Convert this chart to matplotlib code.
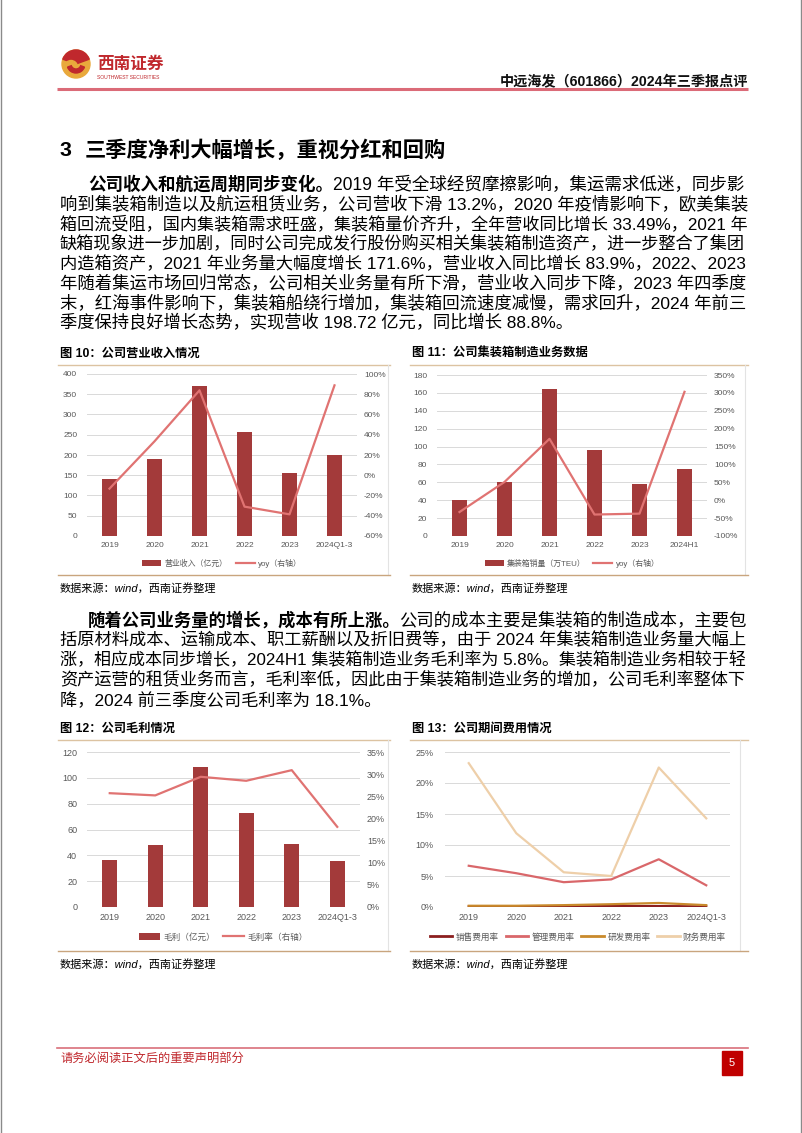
import matplotlib
matplotlib.use('Agg')
import matplotlib.pyplot as plt
from matplotlib.patches import Rectangle, Circle, Wedge, Patch
from matplotlib.lines import Line2D
from matplotlib.ticker import FuncFormatter

plt.rcParams['font.family'] = ['Liberation Sans', 'Noto Sans CJK SC']

# ---------------- data ----------------
cats_a = ['2019', '2020', '2021', '2022', '2023', '2024Q1-3']
cats_b = ['2019', '2020', '2021', '2022', '2023', '2024H1']

revenue = [141, 189, 371, 256, 156, 199]          # 营业收入（亿元）
revenue_yoy = [-13.2, 33.5, 83.9, -31.0, -38.6, 88.8]

box_sales = [40, 60.5, 164, 96, 58.6, 74.5]        # 集装箱销量（万TEU）
box_yoy = [-33, 51, 171.6, -40, -37.5, 303]

gross_profit = [36.3, 47.9, 108.4, 72.6, 48.4, 36.0]   # 毛利（亿元）
gross_margin = [25.7, 25.2, 29.4, 28.5, 30.9, 18.1]    # 毛利率

sell_rate = [0.10, 0.10, 0.10, 0.15, 0.15, 0.10]
admin_rate = [6.65, 5.45, 4.0, 4.45, 7.7, 3.5]
rnd_rate = [0.20, 0.20, 0.30, 0.45, 0.65, 0.30]
fin_rate = [23.2, 11.9, 5.6, 5.0, 22.5, 14.3]

para1 = [
    [("公司收入和航运周期同步变化。", 'bold'), ("2019 年受全球经贸摩擦影响，集运需求低迷，同步影", 'normal')],
    [("响到集装箱制造以及航运租赁业务，公司营收下滑 13.2%，2020 年疫情影响下，欧美集装", 'normal')],
    [("箱回流受阻，国内集装箱需求旺盛，集装箱量价齐升，全年营收同比增长 33.49%，2021 年", 'normal')],
    [("缺箱现象进一步加剧，同时公司完成发行股份购买相关集装箱制造资产，进一步整合了集团", 'normal')],
    [("内造箱资产，2021 年业务量大幅度增长 171.6%，营业收入同比增长 83.9%，2022、2023", 'normal')],
    [("年随着集运市场回归常态，公司相关业务量有所下滑，营业收入同步下降，2023 年四季度", 'normal')],
    [("末，红海事件影响下，集装箱船绕行增加，集装箱回流速度减慢，需求回升，2024 年前三", 'normal')],
    [("季度保持良好增长态势，实现营收 198.72 亿元，同比增长 88.8%。", 'normal')],
]
para2 = [
    [("随着公司业务量的增长，成本有所上涨。", 'bold'), ("公司的成本主要是集装箱的制造成本，主要包", 'normal')],
    [("括原材料成本、运输成本、职工薪酬以及折旧费等，由于 2024 年集装箱制造业务量大幅上", 'normal')],
    [("涨，相应成本同步增长，2024H1 集装箱制造业务毛利率为 5.8%。集装箱制造业务相较于轻", 'normal')],
    [("资产运营的租赁业务而言，毛利率低，因此由于集装箱制造业务的增加，公司毛利率整体下", 'normal')],
    [("降，2024 前三季度公司毛利率为 18.1%。", 'normal')],
]

# ---------------- figure ----------------
W, H = 802, 1133
fig = plt.figure(figsize=(W / 100, H / 100), dpi=100)
bg = fig.add_axes([0, 0, 1, 1])
bg.set_xlim(0, W)
bg.set_ylim(H, 0)
bg.axis('off')
renderer = fig.canvas.get_renderer()

RED = '#C0282D'
BAR = '#A33A3A'
LINE = '#E07372'
GRAY = '#595959'
GRID = '#D9D9D9'
FRAME = '#DCC3A2'


def rect(l, t, r, b):
    return [l / W, 1 - b / H, (r - l) / W, (b - t) / H]


# page side borders
bg.plot([0.5, 0.5], [0, H], color='#8A8A8A', lw=1)
bg.plot([W - 0.8, W - 0.8], [0, H], color='#8A8A8A', lw=1)

# logo
bg.add_patch(Circle((76, 64), 14, color='#E9A93C', zorder=2))
bg.add_patch(Wedge((76, 64), 14, 200, 340, color=RED, zorder=3))
bg.add_patch(Circle((71, 67), 6.5, color='#E9A93C', zorder=4))
bg.add_patch(Wedge((76, 64), 9, 20, 160, width=4, color=RED, zorder=4))
bg.text(97, 64, "西南证券", fontsize=12, fontweight='bold', color=RED, va='center', ha='left')
bg.text(97, 77.5, "SOUTHWEST SECURITIES", fontsize=3.6, color=RED, va='center', ha='left')

# header
bg.text(748, 81, "中远海发（601866）2024年三季报点评", fontsize=10.2, fontweight='bold',
        color='#111111', ha='right', va='center')
bg.plot([57, 748], [89, 89], color='#DB6B78', lw=2.2, solid_capstyle='butt')

# section heading
bg.text(60, 150, "3", fontsize=15.3, fontweight='bold', color='black', va='center', ha='left')
bg.text(85, 150, "三季度净利大幅增长，重视分红和回购", fontsize=15.3, fontweight='bold',
        color='black', va='center', ha='left')


def paragraph(lines, y0, dy, x_left=60, x_right=745, indent=28, base=12.0):
    objs_all, scales = [], []
    for i, parts in enumerate(lines):
        x0 = x_left + (indent if i == 0 else 0)
        y = y0 + i * dy
        objs = [bg.text(x0, y, t, fontsize=base, fontweight=w, color='black',
                        va='center', ha='left') for t, w in parts]
        widths = [o.get_window_extent(renderer).width for o in objs]
        objs_all.append((objs, widths, x0))
        if i < len(lines) - 1:
            scales.append((x_right - x0) / sum(widths))
    mean_s = sum(scales) / len(scales)
    for i, (objs, widths, x0) in enumerate(objs_all):
        s = scales[i] if i < len(scales) else mean_s
        x = x0
        for o, w in zip(objs, widths):
            o.set_fontsize(base * s)
            o.set_x(x)
            x += w * s


paragraph(para1, 185, 19.7)
paragraph(para2, 620, 20.0)


def chart_frame(x0, x1, title, t_y, top, bottom, right):
    bg.text(x0 + 2, t_y, title, fontsize=8.8, fontweight='bold', color='black', va='center', ha='left')
    bg.plot([x0, x1], [top, top], color=FRAME, lw=1.0)
    bg.plot([right, right], [top, bottom], color='#E3E3E3', lw=0.8)
    bg.plot([x0, x1], [bottom, bottom], color='#C9A57E', lw=1.0)
    bg.text(x0 + 2, bottom + 13, "数据来源：wind，西南证券整理", fontsize=8, color='black',
            va='center', ha='left', style='italic')


chart_frame(58, 390, "图 10：公司营业收入情况", 354, 365, 575, 388)
chart_frame(410, 748, "图 11：公司集装箱制造业务数据", 354, 365, 575, 745)
chart_frame(58, 390, "图 12：公司毛利情况", 729, 740, 951, 388)
chart_frame(410, 748, "图 13：公司期间费用情况", 729, 740, 951, 740)

pct = FuncFormatter(lambda v, p: f"{v:.0f}%")


def style_axes(ax, fs=6.0, lpad=7, bpad=4):
    ax.set_facecolor('none')
    for s in ax.spines.values():
        s.set_visible(False)
    ax.tick_params(axis='both', length=0, labelsize=fs, labelcolor=GRAY)
    ax.tick_params(axis='y', pad=lpad)
    ax.tick_params(axis='x', pad=bpad)


def bar_line_chart(pos, cats, bars, line, ylim, ystep, y2lim, y2step, legend_labels, leg_y, fs=6.0):
    ax = fig.add_axes(rect(*pos))
    xs = list(range(len(cats)))
    ax.set_axisbelow(True)
    ax.grid(axis='y', color=GRID, lw=0.7)
    ax.bar(xs, bars, width=0.33, color=BAR, zorder=2)
    ax.set_xlim(-0.5, len(cats) - 0.5)
    ax.set_ylim(*ylim)
    ax.set_yticks(range(ylim[0], ylim[1] + 1, ystep))
    ax.set_xticks(xs)
    ax.set_xticklabels(cats)
    style_axes(ax, fs)
    ax2 = ax.twinx()
    ax2.plot(xs, line, color=LINE, lw=1.6)
    ax2.set_ylim(*y2lim)
    ax2.set_yticks(range(y2lim[0], y2lim[1] + 1, y2step))
    ax2.yaxis.set_major_formatter(pct)
    style_axes(ax2, fs, lpad=5)
    handles = [Patch(facecolor=BAR), Line2D([0], [0], color=LINE, lw=1.6)]
    xc = (pos[0] + pos[2]) / 2 / W
    fig.legend(handles, legend_labels, loc='center', bbox_to_anchor=(xc, 1 - leg_y / H), ncol=2,
               frameon=False, fontsize=fs - 0.3, labelcolor=GRAY, handlelength=2.4, handleheight=0.7,
               columnspacing=1.0, handletextpad=0.4)
    return ax, ax2


bar_line_chart((87, 374, 357, 536), cats_a, revenue, revenue_yoy, (0, 400), 50, (-60, 100), 20,
               ["营业收入（亿元）", "yoy（右轴）"], 563)
bar_line_chart((437, 375, 707, 536), cats_b, box_sales, box_yoy, (0, 180), 20, (-100, 350), 50,
               ["集装箱销量（万TEU）", "yoy（右轴）"], 563)
bar_line_chart((87, 752, 360, 907), cats_a, gross_profit, gross_margin, (0, 120), 20, (0, 35), 5,
               ["毛利（亿元）", "毛利率（右轴）"], 937, fs=6.5)

# figure 13
ax13 = fig.add_axes(rect(445, 752, 730, 907))
xs = list(range(len(cats_a)))
ax13.set_axisbelow(True)
ax13.grid(axis='y', color=GRID, lw=0.7)
series13 = [("销售费用率", sell_rate, '#8C1F1F'), ("管理费用率", admin_rate, '#D9676A'),
            ("研发费用率", rnd_rate, '#C98A2C'), ("财务费用率", fin_rate, '#EECFA9')]
for name, vals, col in series13:
    ax13.plot(xs, vals, color=col, lw=1.6, label=name)
ax13.set_xlim(-0.5, 5.5)
ax13.set_ylim(0, 25)
ax13.set_yticks(range(0, 26, 5))
ax13.yaxis.set_major_formatter(pct)
ax13.set_xticks(xs)
ax13.set_xticklabels(cats_a)
style_axes(ax13, 6.5, lpad=8)
h13 = [Line2D([0], [0], color=c, lw=2.0) for _, _, c in series13]
fig.legend(h13, [n for n, _, _ in series13], loc='center', bbox_to_anchor=(578 / W, 1 - 937 / H),
           ncol=4, frameon=False, fontsize=6.2, labelcolor=GRAY, handlelength=2.6,
           columnspacing=0.8, handletextpad=0.4)

# footer
bg.plot([57, 748], [1048, 1048], color='#D9707A', lw=1.2)
bg.text(60, 1059, "请务必阅读正文后的重要声明部分", fontsize=8.8, color=RED, va='center', ha='left')
bg.add_patch(Rectangle((722, 1051), 20, 24, color='#C00000'))
bg.text(732, 1063, "5", fontsize=8, color='white', va='center', ha='center')

fig.savefig('out.png', dpi=100)
